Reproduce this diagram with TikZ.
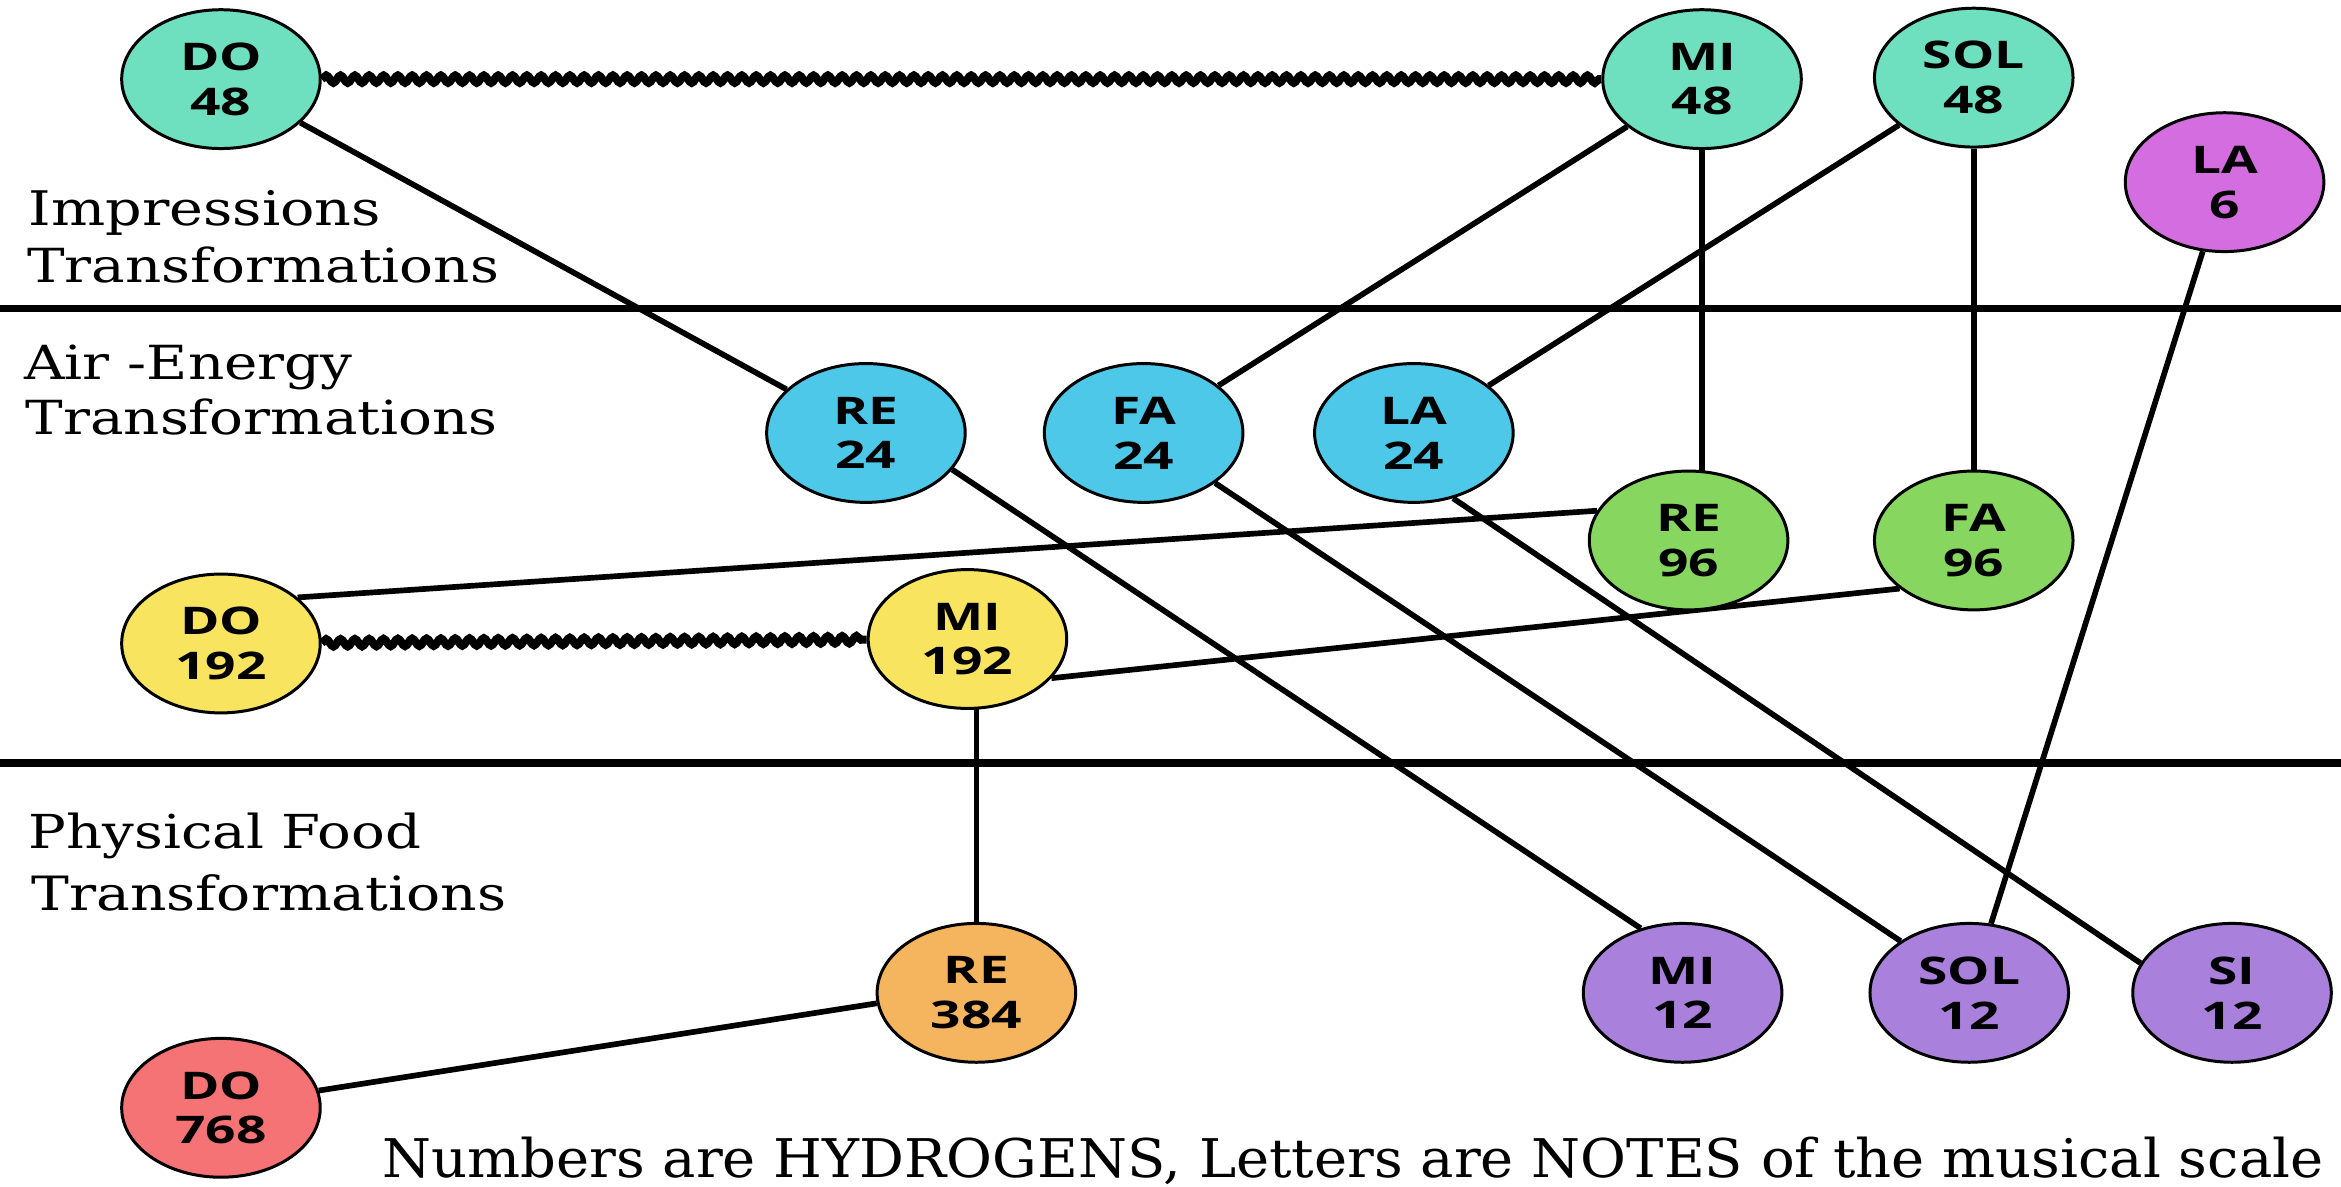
\documentclass[tikz,border=0pt]{standalone}
\usepackage{fontspec}
\usepackage{graphicx}
\usetikzlibrary{shapes.geometric,decorations.pathmorphing}
\newfontfamily\nodefont[FakeStretch=1.4]{Open Sans}
\newfontfamily\labfont[FakeStretch=1.2]{DejaVu Serif}
\newfontfamily\legfont[FakeStretch=1.05]{DejaVu Serif}
\definecolor{cteal}{HTML}{6EDFBF}
\definecolor{cmag}{HTML}{D46EE0}
\definecolor{cblue}{HTML}{4EC8E8}
\definecolor{cgreen}{HTML}{86D660}
\definecolor{cyellow}{HTML}{F8E45E}
\definecolor{corange}{HTML}{F5B55E}
\definecolor{cred}{HTML}{F57374}
\definecolor{cpurple}{HTML}{A980DC}
\pgfdeclarelayer{bg}
\pgfsetlayers{bg,main}
\newcommand{\fitw}[2]{\resizebox{#1pt}{!}{#2}}
\begin{document}
\begin{tikzpicture}[x=1pt,y=-1pt,
  notebox/.style={ellipse, draw=black, line width=2pt, minimum width=133pt, minimum height=93pt,
    inner sep=0pt, align=center, font=\nodefont\bfseries\fontsize{25.5}{30}\selectfont},
  link/.style={line width=3.8pt, draw=black},
  wavy/.style={line width=5.5pt, draw=black, decorate, decoration={snake, segment length=9.6pt, amplitude=2.4pt}},
  rowlabel/.style={anchor=base west, inner sep=0pt, font=\labfont\fontsize{29}{35}\selectfont},
  divider/.style={line width=5pt, draw=black}]
\useasboundingbox (0,0) rectangle (1568,795);
% nodes
\node[notebox, fill=cteal] (DO48) at (148,53) {DO\\48};
\node[notebox, fill=cteal] (MI48) at (1140,53) {MI\\48};
\node[notebox, fill=cteal] (SOL48) at (1322,52) {SOL\\48};
\node[notebox, fill=cmag] (LA6) at (1490,122) {LA\\6};
\node[notebox, fill=cblue] (RE24) at (580,290) {RE\\24};
\node[notebox, fill=cblue] (FA24) at (766,290) {FA\\24};
\node[notebox, fill=cblue] (LA24) at (947,290) {LA\\24};
\node[notebox, fill=cgreen] (RE96) at (1131,362) {RE\\96};
\node[notebox, fill=cgreen] (FA96) at (1322,362) {FA\\96};
\node[notebox, fill=cyellow] (DO192) at (148,431) {DO\\192};
\node[notebox, fill=cyellow] (MI192) at (648,428) {MI\\192};
\node[notebox, fill=corange] (RE384) at (654,665) {RE\\384};
\node[notebox, fill=cred] (DO768) at (148,742) {DO\\768};
\node[notebox, fill=cpurple] (MI12) at (1127,665) {MI\\12};
\node[notebox, fill=cpurple] (SOL12) at (1319,665) {SOL\\12};
\node[notebox, fill=cpurple] (SI12) at (1495,665) {SI\\12};
% labels
\node[rowlabel] (imp) at (19,151) {\fitw{236}{Impressions}};
\node[rowlabel] (impt) at (18,189) {\fitw{316}{Transformations}};
\node[rowlabel] (air) at (16,254) {\fitw{220}{Air -Energy}};
\node[rowlabel] (airt) at (17,291) {\fitw{316}{Transformations}};
\node[rowlabel] (phys) at (19,568) {\fitw{263}{Physical Food}};
\node[rowlabel] (physt) at (21,610) {\fitw{318}{Transformations}};
\node[rowlabel, font=\legfont\fontsize{29}{35}\selectfont] (legend) at (256,789) {\fitw{1300}{Numbers are HYDROGENS, Letters are NOTES of the musical scale}};
\begin{pgfonlayer}{bg}
\fill[white] (0,0) rectangle (1568,795);
\draw[divider] (0,206.5) -- (1568,206.5);
\draw[divider] (0,511) -- (1568,511);
\draw[wavy] (DO48) -- (MI48);
\draw[wavy] (DO192) -- (MI192);
\draw[link] (DO48) -- (RE24);
\draw[link] (MI48) -- (FA24);
\draw[link] (SOL48) -- (LA24);
\draw[link] (LA6) -- (SOL12);
\draw[link] (MI48) -- (MI48 |- RE96);
\draw[link] (SOL48) -- (SOL48 |- FA96);
\draw[link] (RE384 |- MI192) -- (RE384);
\draw[link] (RE96.162) -- (DO192.31);
\draw[link] (FA96.213) -- (MI192.335);
\draw[link] (RE384.186) -- (DO768.10);
\draw[link] (RE24.337) -- (MI12.123);
\draw[link] (FA24.325) -- (SOL12.143);
\draw[link] (LA24.301) -- (SI12.162);
\end{pgfonlayer}
\end{tikzpicture}
\end{document}
